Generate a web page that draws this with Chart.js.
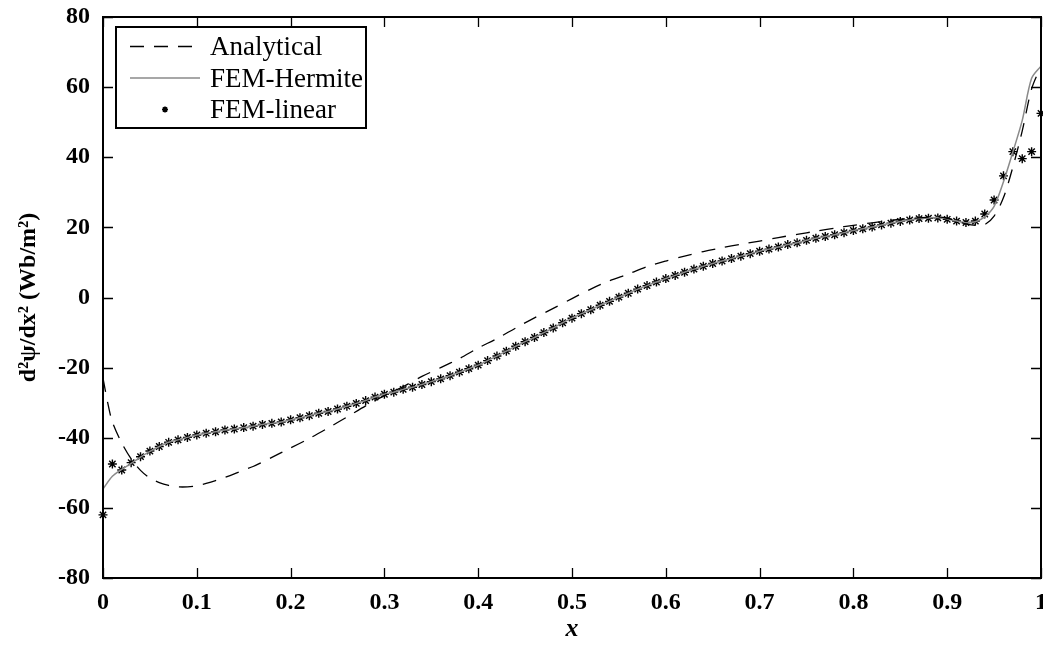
<!DOCTYPE html>
<html>
<head>
<meta charset="utf-8">
<script src="https://cdn.jsdelivr.net/npm/chart.js@4"></script>
<style>
  html, body { margin: 0; padding: 0; background: #fff; }
  #wrap { width: 1043px; height: 645px; }
</style>
</head>
<body>
<div id="wrap"><canvas id="curv"></canvas></div>
<script>
// second derivative of the flux along x
const femX = [
  0, 0.01, 0.02, 0.03, 0.04, 0.05, 0.06, 0.07, 0.08, 0.09,
  0.1, 0.11, 0.12, 0.13, 0.14, 0.15, 0.16, 0.17, 0.18, 0.19,
  0.2, 0.21, 0.22, 0.23, 0.24, 0.25, 0.26, 0.27, 0.28, 0.29,
  0.3, 0.31, 0.32, 0.33, 0.34, 0.35, 0.36, 0.37, 0.38, 0.39,
  0.4, 0.41, 0.42, 0.43, 0.44, 0.45, 0.46, 0.47, 0.48, 0.49,
  0.5, 0.51, 0.52, 0.53, 0.54, 0.55, 0.56, 0.57, 0.58, 0.59,
  0.6, 0.61, 0.62, 0.63, 0.64, 0.65, 0.66, 0.67, 0.68, 0.69,
  0.7, 0.71, 0.72, 0.73, 0.74, 0.75, 0.76, 0.77, 0.78, 0.79,
  0.8, 0.81, 0.82, 0.83, 0.84, 0.85, 0.86, 0.87, 0.88, 0.89,
  0.9, 0.91, 0.92, 0.93, 0.94, 0.95, 0.96, 0.97, 0.98, 0.99, 1
];

const linearY = [
  -62, -47.5, -49.2, -47.1, -45.4, -43.8, -42.5, -41.3, -40.6, -39.9,
  -39.2, -38.7, -38.3, -37.8, -37.5, -37.1, -36.7, -36.2, -35.9, -35.5,
  -34.9, -34.3, -33.7, -33.0, -32.5, -31.8, -31.0, -30.2, -29.4, -28.4,
  -27.6, -27.0, -26.2, -25.6, -24.8, -24.0, -23.2, -22.3, -21.3, -20.3,
  -19.3, -18.0, -16.7, -15.3, -13.9, -12.6, -11.4, -10.0, -8.7, -7.2,
  -5.9, -4.6, -3.5, -2.2, -1.1, 0.1, 1.2, 2.4, 3.4, 4.4,
  5.4, 6.3, 7.2, 8.1, 8.9, 9.7, 10.4, 11.1, 11.8, 12.5,
  13.2, 13.8, 14.4, 15.1, 15.6, 16.3, 16.9, 17.4, 17.9, 18.5,
  19.1, 19.6, 20.1, 20.7, 21.2, 21.7, 22.1, 22.5, 22.6, 22.7,
  22.3, 21.8, 21.4, 21.8, 23.8, 27.8, 34.7, 41.6, 39.6, 41.6, 52.5
];

const hermiteY = [
  -54.6, -51.0, -49.0, -47.3, -45.5, -43.9, -42.5, -41.3, -40.6, -39.9,
  -39.2, -38.7, -38.3, -37.8, -37.5, -37.1, -36.7, -36.2, -35.9, -35.5,
  -34.9, -34.3, -33.7, -33.0, -32.5, -31.8, -31.0, -30.2, -29.4, -28.4,
  -27.6, -27.0, -26.2, -25.6, -24.8, -24.0, -23.2, -22.3, -21.3, -20.3,
  -19.3, -18.0, -16.7, -15.3, -13.9, -12.6, -11.4, -10.0, -8.7, -7.2,
  -5.9, -4.6, -3.5, -2.2, -1.1, 0.1, 1.2, 2.4, 3.4, 4.4,
  5.4, 6.3, 7.2, 8.1, 8.9, 9.7, 10.4, 11.1, 11.8, 12.5,
  13.2, 13.8, 14.4, 15.1, 15.6, 16.3, 16.9, 17.4, 17.9, 18.5,
  19.1, 19.6, 20.1, 20.7, 21.2, 21.7, 22.1, 22.5, 22.7, 22.8,
  22.4, 21.8, 21.3, 21.6, 23.0, 26.0, 33.0, 41.5, 50.5, 62.5, 66.0
];

const analyticX = [
  0, 0.005, 0.01, 0.02, 0.03, 0.04, 0.05, 0.06, 0.07, 0.08, 0.09,
  0.1, 0.11, 0.12, 0.13, 0.14, 0.15, 0.16, 0.18, 0.2, 0.22, 0.24,
  0.26, 0.28, 0.3, 0.32, 0.34, 0.36, 0.38, 0.4, 0.42, 0.44, 0.46,
  0.48, 0.5, 0.52, 0.54, 0.56, 0.58, 0.6, 0.62, 0.64, 0.66, 0.68,
  0.7, 0.72, 0.74, 0.76, 0.78, 0.8, 0.82, 0.84, 0.86, 0.88, 0.89,
  0.9, 0.91, 0.92, 0.93, 0.94, 0.95, 0.96, 0.97, 0.98, 0.99, 1
];

const analyticY = [
  -23, -30, -35.5, -41.5, -46, -49.3, -51.5, -52.8, -53.6, -54, -54,
  -53.7, -53, -52.2, -51.3, -50.3, -49.2, -48.2, -45.6, -42.9, -40.2, -37.2,
  -34.1, -30.9, -28, -25.4, -22.5, -20, -17.4, -14.4, -11.7, -8.7, -5.8,
  -3.1, -0.3, 2.4, 4.8, 6.7, 8.8, 10.4, 11.8, 13.1, 14.2, 15.2,
  16.1, 17.1, 18, 18.9, 19.8, 20.6, 21.3, 22, 22.5, 22.9, 23,
  22.6, 21.8, 21, 20.6, 20.8, 23.2, 28.5, 37.2, 47.5, 59.5, 66
];

const xTicks = { min: 0, max: 1, step: 0.1 };
const yTicks = { min: -80, max: 80, step: 20 };

const SERIF = '"Liberation Serif", "Times New Roman", serif';

const pts = (xs, ys) => xs.map((x, i) => ({ x: x, y: ys[i] }));

// box around the plot with inward ticks on all four sides
const frame = {
  id: 'frame',
  afterDatasetsDraw(chart) {
    const { ctx, chartArea: a, scales } = chart;
    const len = 10;
    ctx.save();
    ctx.strokeStyle = '#000';
    ctx.lineWidth = 1.3;
    ctx.beginPath();
    scales.x.ticks.forEach(t => {
      const px = Math.round(scales.x.getPixelForValue(t.value)) + 0.5;
      ctx.moveTo(px, a.bottom); ctx.lineTo(px, a.bottom - len);
      ctx.moveTo(px, a.top); ctx.lineTo(px, a.top + len);
    });
    scales.y.ticks.forEach(t => {
      const py = Math.round(scales.y.getPixelForValue(t.value)) + 0.5;
      ctx.moveTo(a.left, py); ctx.lineTo(a.left + len, py);
      ctx.moveTo(a.right, py); ctx.lineTo(a.right - len, py);
    });
    ctx.stroke();
    ctx.lineWidth = 2;
    ctx.strokeRect(a.left, a.top, a.right - a.left, a.bottom - a.top);
    ctx.restore();
  }
};

function drawStar(ctx, x, y, r) {
  ctx.beginPath();
  for (let k = 0; k < 4; k++) {
    const ang = k * Math.PI / 4;
    ctx.moveTo(x - r * Math.cos(ang), y - r * Math.sin(ang));
    ctx.lineTo(x + r * Math.cos(ang), y + r * Math.sin(ang));
  }
  ctx.stroke();
}

// boxed legend in the upper left corner
const boxLegend = {
  id: 'boxLegend',
  afterDraw(chart) {
    const { ctx, chartArea: a } = chart;
    const left = a.left + 13, top = a.top + 10, w = 250, h = 101;
    ctx.save();
    ctx.fillStyle = '#fff';
    ctx.fillRect(left, top, w, h);
    ctx.strokeStyle = '#000';
    ctx.lineWidth = 2;
    ctx.strokeRect(left, top, w, h);
    ctx.font = '27px ' + SERIF;
    ctx.textBaseline = 'alphabetic';
    ctx.textAlign = 'left';
    chart.data.datasets.forEach((ds, i) => {
      const base = top + 28 + i * 31.5;
      const mid = base - 8.5;
      const x0 = left + 14, x1 = left + 84;
      ctx.strokeStyle = ds.borderColor;
      ctx.lineWidth = ds.borderWidth;
      if (ds.showLine === false) {
        ctx.strokeStyle = '#000';
        ctx.lineWidth = 1.6;
        drawStar(ctx, (x0 + x1) / 2, mid, 3);
      } else {
        ctx.setLineDash(ds.borderDash || []);
        ctx.beginPath();
        ctx.moveTo(x0, mid);
        ctx.lineTo(x1, mid);
        ctx.stroke();
        ctx.setLineDash([]);
      }
      ctx.fillStyle = '#000';
      ctx.fillText(ds.label, left + 94, base);
    });
    ctx.restore();
  }
};

new Chart(document.getElementById('curv'), {
  type: 'line',
  data: {
    datasets: [
      {
        label: 'Analytical',
        data: pts(analyticX, analyticY),
        borderColor: '#000',
        borderWidth: 1.3,
        borderDash: [14, 10],
        pointRadius: 0,
        tension: 0.3,
        fill: false
      },
      {
        label: 'FEM-Hermite',
        data: pts(femX, hermiteY),
        borderColor: '#8a8a8a',
        borderWidth: 1.5,
        pointRadius: 0,
        tension: 0.3,
        fill: false
      },
      {
        label: 'FEM-linear',
        data: pts(femX, linearY),
        showLine: false,
        borderColor: '#000',
        backgroundColor: '#000',
        pointStyle: 'star',
        pointRadius: 4.5,
        pointBorderWidth: 1.4,
        clip: false
      }
    ]
  },
  options: {
    responsive: true,
    maintainAspectRatio: false,
    animation: false,
    devicePixelRatio: 1,
    layout: { autoPadding: false, padding: { top: 17, right: 2, left: 0, bottom: 0 } },
    plugins: {
      legend: { display: false },
      tooltip: { enabled: false }
    },
    scales: {
      x: {
        type: 'linear',
        min: xTicks.min,
        max: xTicks.max,
        afterFit: s => { s.height = 67; s.paddingLeft = 0; s.paddingRight = 0; },
        grid: { display: false, drawTicks: false },
        border: { display: false },
        ticks: {
          stepSize: xTicks.step,
          padding: 10,
          color: '#000',
          maxRotation: 0,
          font: { family: SERIF, size: 24, weight: 'bold' },
          callback: v => String(Number(v.toFixed(1)))
        },
        title: {
          display: true,
          text: 'x',
          color: '#000',
          padding: { top: -6, bottom: 0 },
          font: { family: SERIF, size: 26, weight: 'bold', style: 'italic' }
        }
      },
      y: {
        min: yTicks.min,
        max: yTicks.max,
        afterFit: s => { s.width = 103; s.paddingTop = 0; s.paddingBottom = 0; },
        grid: { display: false, drawTicks: false },
        border: { display: false },
        ticks: {
          stepSize: yTicks.step,
          padding: 13,
          color: '#000',
          font: { family: SERIF, size: 24, weight: 'bold' }
        },
        title: {
          display: true,
          text: 'd²ψ/dx² (Wb/m²)',
          color: '#000',
          padding: { top: 14, bottom: 0 },
          font: { family: SERIF, size: 24, weight: 'bold' }
        }
      }
    }
  },
  plugins: [frame, boxLegend]
});
</script>
</body>
</html>
